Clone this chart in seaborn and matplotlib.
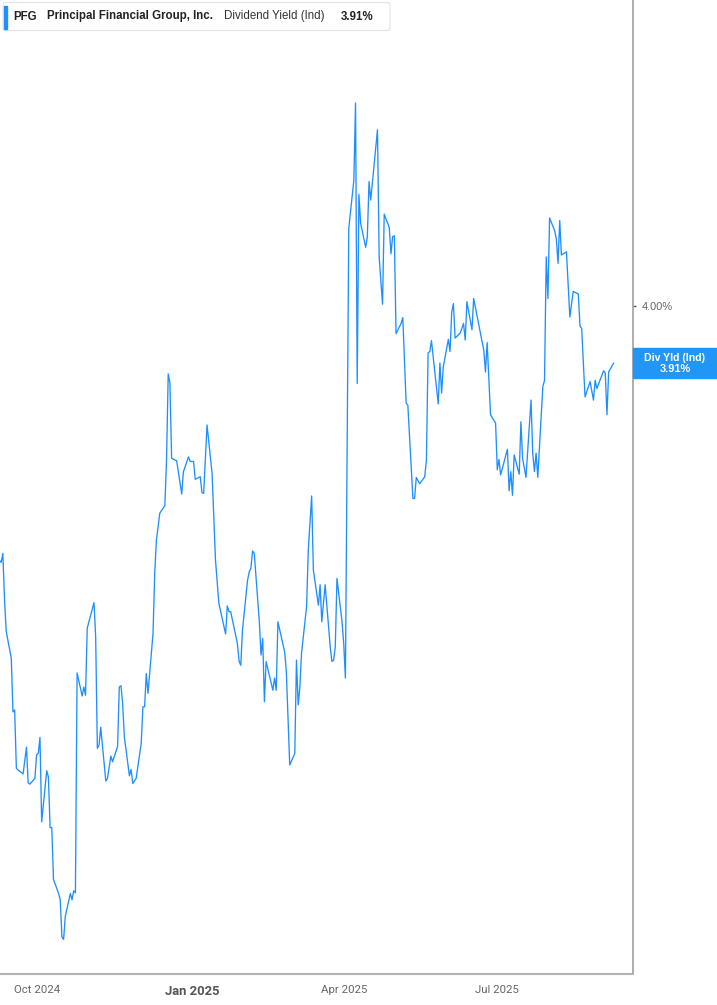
import matplotlib
matplotlib.use("Agg")
import pandas as pd
import matplotlib.pyplot as plt
from matplotlib.patches import Rectangle, FancyBboxPatch
import matplotlib.dates as mdates
import seaborn as sns

# header texts
ticker = "PFG"
company = "Principal Financial Group, Inc."
metric = "Dividend Yield (Ind)"
badge_name = "Div Yld (Ind)"

# daily dividend yield (%)
dates = [
    "2024-09-09", "2024-09-10", "2024-09-11", "2024-09-12", "2024-09-13",
    "2024-09-16", "2024-09-17", "2024-09-18", "2024-09-19", "2024-09-20",
    "2024-09-23", "2024-09-25", "2024-09-26", "2024-09-27", "2024-09-30",
    "2024-10-01", "2024-10-02", "2024-10-03", "2024-10-04", "2024-10-07",
    "2024-10-08", "2024-10-09", "2024-10-10", "2024-10-11", "2024-10-14",
    "2024-10-15", "2024-10-16", "2024-10-17", "2024-10-18", "2024-10-21",
    "2024-10-22", "2024-10-23", "2024-10-24", "2024-10-25", "2024-10-28",
    "2024-10-29", "2024-10-30", "2024-10-31", "2024-11-04", "2024-11-05",
    "2024-11-06", "2024-11-07", "2024-11-08", "2024-11-11", "2024-11-12",
    "2024-11-14", "2024-11-15", "2024-11-18", "2024-11-19", "2024-11-20",
    "2024-11-21", "2024-11-22", "2024-11-25", "2024-11-26", "2024-11-27",
    "2024-11-29", "2024-12-02", "2024-12-03", "2024-12-04", "2024-12-05",
    "2024-12-06", "2024-12-09", "2024-12-10", "2024-12-11", "2024-12-13",
    "2024-12-16", "2024-12-17", "2024-12-18", "2024-12-19", "2024-12-20",
    "2024-12-23", "2024-12-26", "2024-12-27", "2024-12-30", "2024-12-31",
    "2025-01-02", "2025-01-03", "2025-01-06", "2025-01-07", "2025-01-08",
    "2025-01-10", "2025-01-13", "2025-01-15", "2025-01-17", "2025-01-21",
    "2025-01-22", "2025-01-23", "2025-01-24", "2025-01-28", "2025-01-29",
    "2025-01-30", "2025-01-31", "2025-02-03", "2025-02-04", "2025-02-05",
    "2025-02-06", "2025-02-07", "2025-02-10", "2025-02-11", "2025-02-12",
    "2025-02-13", "2025-02-14", "2025-02-18", "2025-02-19", "2025-02-20",
    "2025-02-21", "2025-02-25", "2025-02-26", "2025-02-28", "2025-03-03",
    "2025-03-04", "2025-03-05", "2025-03-06", "2025-03-07", "2025-03-10",
    "2025-03-11", "2025-03-13", "2025-03-14", "2025-03-17", "2025-03-18",
    "2025-03-19", "2025-03-21", "2025-03-24", "2025-03-25", "2025-03-26",
    "2025-03-27", "2025-03-28", "2025-03-31", "2025-04-01", "2025-04-02",
    "2025-04-04", "2025-04-07", "2025-04-08", "2025-04-09", "2025-04-10",
    "2025-04-11", "2025-04-14", "2025-04-15", "2025-04-16", "2025-04-17",
    "2025-04-21", "2025-04-22", "2025-04-24", "2025-04-25", "2025-04-28",
    "2025-04-29", "2025-04-30", "2025-05-01", "2025-05-02", "2025-05-05",
    "2025-05-06", "2025-05-08", "2025-05-09", "2025-05-12", "2025-05-13",
    "2025-05-14", "2025-05-16", "2025-05-19", "2025-05-20", "2025-05-21",
    "2025-05-22", "2025-05-23", "2025-05-27", "2025-05-28", "2025-05-29",
    "2025-05-30", "2025-06-02", "2025-06-03", "2025-06-04", "2025-06-05",
    "2025-06-06", "2025-06-09", "2025-06-10", "2025-06-11", "2025-06-12",
    "2025-06-13", "2025-06-16", "2025-06-17", "2025-06-23", "2025-06-24",
    "2025-06-25", "2025-06-27", "2025-06-30", "2025-07-01", "2025-07-02",
    "2025-07-03", "2025-07-07", "2025-07-08", "2025-07-09", "2025-07-10",
    "2025-07-11", "2025-07-14", "2025-07-15", "2025-07-16", "2025-07-18",
    "2025-07-21", "2025-07-22", "2025-07-23", "2025-07-24", "2025-07-25",
    "2025-07-28", "2025-07-29", "2025-07-30", "2025-07-31", "2025-08-01",
    "2025-08-04", "2025-08-05", "2025-08-06", "2025-08-07", "2025-08-08",
    "2025-08-11", "2025-08-13", "2025-08-15", "2025-08-18", "2025-08-19",
    "2025-08-20", "2025-08-22", "2025-08-25", "2025-08-27", "2025-08-28",
    "2025-08-29", "2025-09-02", "2025-09-03", "2025-09-04", "2025-09-05",
    "2025-09-08",
]
yields = [
    3.601, 3.598, 3.612, 3.539, 3.490,
    3.448, 3.364, 3.367, 3.276, 3.273,
    3.267, 3.309, 3.253, 3.251, 3.260,
    3.297, 3.299, 3.324, 3.192, 3.272,
    3.262, 3.183, 3.183, 3.102, 3.080,
    3.070, 3.012, 3.008, 3.044, 3.080,
    3.070, 3.084, 3.081, 3.425, 3.389,
    3.403, 3.390, 3.495, 3.535, 3.482,
    3.307, 3.312, 3.340, 3.256, 3.260,
    3.295, 3.286, 3.310, 3.403, 3.405,
    3.377, 3.325, 3.264, 3.274, 3.252,
    3.260, 3.315, 3.372, 3.372, 3.424,
    3.393, 3.487, 3.581, 3.633, 3.675,
    3.687, 3.758, 3.893, 3.879, 3.761,
    3.757, 3.705, 3.740, 3.763, 3.756,
    3.756, 3.728, 3.732, 3.707, 3.706,
    3.813, 3.737, 3.602, 3.534, 3.486,
    3.530, 3.521, 3.521, 3.471, 3.443,
    3.437, 3.492, 3.570, 3.583, 3.589,
    3.616, 3.612, 3.505, 3.453, 3.479,
    3.380, 3.443, 3.398, 3.417, 3.398,
    3.505, 3.458, 3.427, 3.281, 3.299,
    3.445, 3.375, 3.403, 3.456, 3.529,
    3.617, 3.702, 3.586, 3.531, 3.563,
    3.505, 3.563, 3.466, 3.443, 3.445,
    3.466, 3.573, 3.505, 3.471, 3.417,
    4.121, 4.196, 4.317, 3.878, 4.174,
    4.129, 4.091, 4.108, 4.194, 4.165,
    4.275, 4.076, 4.002, 4.143, 4.122,
    4.081, 4.108, 4.109, 3.956, 3.972,
    3.981, 3.847, 3.844, 3.698, 3.698,
    3.731, 3.721, 3.732, 3.758, 3.926,
    3.928, 3.945, 3.846, 3.910, 3.863,
    3.904, 3.947, 3.928, 3.990, 4.003,
    3.949, 3.957, 3.964, 3.972, 3.946,
    4.006, 3.962, 4.011, 3.930, 3.896,
    3.942, 3.829, 3.816, 3.743, 3.759,
    3.735, 3.775, 3.710, 3.740, 3.703,
    3.766, 3.736, 3.818, 3.761, 3.731,
    3.852, 3.769, 3.740, 3.769, 3.731,
    3.873, 3.883, 4.076, 4.011, 4.137,
    4.117, 4.104, 4.066, 4.133, 4.079,
    4.084, 3.982, 4.022, 4.018, 3.968,
    3.964, 3.857, 3.881, 3.852, 3.883,
    3.870, 3.898, 3.894, 3.829, 3.896,
    3.910,
]

tick_dates = ["2024-10-01", "2025-01-01", "2025-04-01", "2025-07-01"]
tick_labels = ["Oct 2024", "Jan 2025", "Apr 2025", "Jul 2025"]
ref_ticks = [4.00]

LINE = "#1e8fff"
BADGE = "#2196f5"
W, H = 717, 1005
ARIAL = ["Liberation Sans", "DejaVu Sans"]

df = pd.DataFrame({"date": pd.to_datetime(dates), "yield": yields})

sns.set_theme(style="white")
plt.rcParams["font.family"] = ["Roboto", "DejaVu Sans"]

fig = plt.figure(figsize=(W / 100, H / 100), dpi=100)
ax = fig.add_axes([0, 30.7 / H, 632.7 / W, 974.3 / H])

sns.lineplot(data=df, x="date", y="yield", ax=ax, color=LINE,
             linewidth=0.95, estimator=None)

ax.set_xlim(pd.Timestamp("2024-09-09 07:30"), pd.Timestamp("2025-09-19 06:00"))
ax.set_ylim(2.9534, 4.4781)
ax.set_xlabel("")
ax.set_ylabel("")

for side in ("top", "left"):
    ax.spines[side].set_visible(False)
ax.spines["bottom"].set_color("#b3b3b3")
ax.spines["bottom"].set_linewidth(1.5)
ax.spines["right"].set_color("#a0a0a0")
ax.spines["right"].set_linewidth(1.2)

# right value axis with a single reference tick
ax.yaxis.tick_right()
ax.set_yticks(ref_ticks)
ax.set_yticklabels([f"{v:.2f}%" for v in ref_ticks])
ax.tick_params(axis="y", length=2.5, width=1, color="#555555", pad=4.3,
               labelsize=7.9, labelcolor="#666666")
for lab in ax.get_yticklabels():
    lab.set_family(ARIAL)

ax.set_xticks(pd.to_datetime(tick_dates))
ax.set_xticklabels(tick_labels)
ax.tick_params(axis="x", length=3.6, width=1.2, color="#aaaaaa", pad=4,
               labelsize=8.2, labelcolor="#666666")
for lab in ax.get_xticklabels():
    if lab.get_text().startswith("Jan"):
        lab.set_fontweight("bold")
        lab.set_fontsize(9.4)
        lab.set_color("#555555")

# header card
fx = lambda px: px / W
fy = lambda py: 1 - py / H
card = FancyBboxPatch((fx(3), fy(30.5)), fx(387), 28 / H,
                      boxstyle="round,pad=0,rounding_size=0.003",
                      transform=fig.transFigure, fc="white", ec="#e3e3e3",
                      lw=0.8, zorder=5)
fig.patches.append(card)
fig.patches.append(Rectangle((fx(3.8), fy(28.7)), fx(3), 22.7 / H,
                             transform=fig.transFigure, color=LINE, zorder=6))
hy = fy(16.5)
HS = 8.3
fig.text(fx(13.3), hy, ticker, fontsize=HS, fontweight="bold", color="#222222",
         va="center", family=ARIAL, zorder=7)
fig.text(fx(46.7), hy, company, fontsize=HS, fontweight="bold", color="#222222",
         va="center", family=ARIAL, zorder=7)
fig.text(fx(224), hy, metric, fontsize=HS, color="#333333", va="center",
         family=ARIAL, zorder=7)
fig.text(fx(340.7), hy, f"{yields[-1]:.2f}%", fontsize=HS, fontweight="bold",
         color="#222222", va="center", family=ARIAL, zorder=7)

# last value badge on the right axis
last_x = mdates.date2num(df["date"].iloc[-1])
y_pix = ax.transData.transform((last_x, yields[-1]))[1]
yb = y_pix / fig.bbox.height
fig.patches.append(Rectangle((fx(633), yb - 15 / H), fx(W - 633), 30 / H,
                             transform=fig.transFigure, color=BADGE, zorder=6))
fig.text(fx(675), yb + 5.5 / H, badge_name, fontsize=7.6, fontweight="bold",
         color="white", ha="center", va="center", family=ARIAL, zorder=7)
fig.text(fx(675), yb - 5.5 / H, f"{yields[-1]:.2f}%", fontsize=7.9,
         fontweight="bold", color="white", ha="center", va="center",
         family=ARIAL, zorder=7)

assert len(dates) == len(yields)
fig.savefig("out.png", dpi=100)
